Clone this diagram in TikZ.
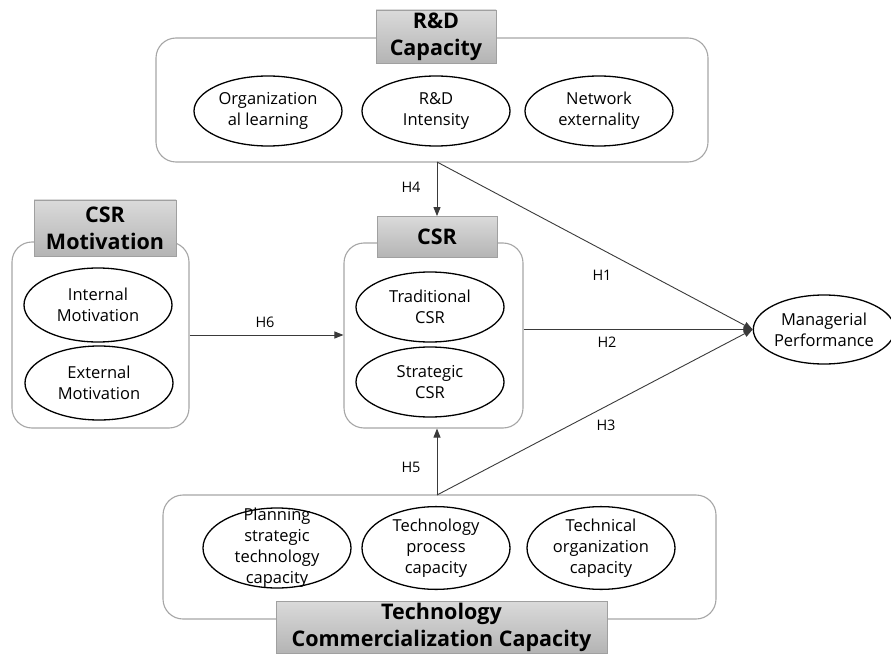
\documentclass[tikz,border=0pt]{standalone}
\usepackage{fontspec}
\setmainfont{Open Sans}
\usetikzlibrary{arrows.meta,shapes.geometric}
\definecolor{framegray}{HTML}{A6A6A6}
\definecolor{titletop}{HTML}{DADADA}
\definecolor{titlebot}{HTML}{B4B4B4}
\definecolor{titleline}{HTML}{A0A0A0}
\definecolor{linkgray}{HTML}{3A3A3A}
\begin{document}
\begin{tikzpicture}[x=1pt,y=-1pt,
  group/.style={draw=framegray, line width=1.1pt, rounded corners=20pt, fill=white, inner sep=0pt},
  heading/.style={draw=titleline, line width=0.8pt, top color=titletop, bottom color=titlebot,
    inner sep=0pt, align=center, font=\fontsize{21.5}{27}\selectfont\bfseries},
  oval/.style={draw=black, line width=1.3pt, ellipse, inner sep=0pt,
    minimum width=148pt, minimum height=70pt, align=center,
    font=\fontsize{16.5}{21}\selectfont},
  hlabel/.style={font=\fontsize{14.5}{16}\selectfont, inner sep=0pt},
  link/.style={draw=linkgray, line width=0.9pt},
  arrowlink/.style={link, -{Triangle[length=9pt,width=7pt]}}]
\useasboundingbox (0,0) rectangle (891,655);

% R&D capacity group
\node[group, minimum width=552pt, minimum height=124pt] (rd) at (432,100) {};
\node[heading, minimum width=120pt, minimum height=53pt] (rdT) at (436,36.5) {R\&D\\Capacity};
\node[oval] (ol) at (268,111) {Organization\\al learning};
\node[oval] (ri) at (436,111) {R\&D\\Intensity};
\node[oval] (ne) at (599,111) {Network\\externality};

% CSR motivation group
\node[group, minimum width=177pt, minimum height=186pt] (cm) at (100.5,335) {};
\node[heading, minimum width=142pt, minimum height=56pt] (cmT) at (105,228) {CSR\\Motivation};
\node[oval, minimum height=74pt] (im) at (98,305) {Internal\\Motivation};
\node[oval, minimum height=74pt] (em) at (99,383) {External\\Motivation};

% CSR group
\node[group, minimum width=179pt, minimum height=185pt] (csr) at (433.5,335.5) {};
\node[heading, minimum width=120pt, minimum height=41pt] (csrT) at (437,237) {CSR};
\node[oval] (tc) at (430,307) {Traditional\\CSR};
\node[oval] (sc) at (430,382) {Strategic\\CSR};

% Technology commercialization capacity group
\node[group, minimum width=553pt, minimum height=124pt] (tcc) at (439.5,557) {};
\node[oval, minimum height=80pt] (ps) at (277,548) {};
\node[align=center, font=\fontsize{16.5}{21}\selectfont, inner sep=0pt] at (ps) {Planning\\strategic\\technology\\capacity};
\node[oval, minimum height=80pt] (tp) at (436,548) {Technology\\process\\capacity};
\node[oval, minimum height=80pt] (to) at (601,548) {Technical\\organization\\capacity};
\node[heading, minimum width=331pt, minimum height=52pt] (tccT) at (441.5,627) {Technology\\Commercialization Capacity};

% Outcome
\node[draw=black, line width=1.3pt, ellipse, inner sep=0pt, minimum width=138pt, minimum height=69pt,
  align=center, font=\fontsize{16.5}{21}\selectfont] (mp) at (824,329.5) {Managerial\\Performance};

% Hypothesis paths
\coordinate (h4s) at (437,162);
\coordinate (h5s) at (437,495);
\draw[arrowlink] (h4s) -- (csrT.north);
\draw[arrowlink] (h4s) -- (mp.west);
\draw[arrowlink] (h5s) -- (h5s |- csr.south);
\draw[arrowlink] (h5s) -- (mp.west);
\draw[arrowlink] (cm.east) -- (cm.east -| csr.west);
\draw[arrowlink] (csr.east |- mp.west) -- (mp.west);

\node[hlabel] (lh1) at (602,275) {H1};
\node[hlabel] (lh2) at (607,342) {H2};
\node[hlabel] (lh3) at (606,425) {H3};
\node[hlabel] (lh4) at (411,187) {H4};
\node[hlabel] (lh5) at (411,467) {H5};
\node[hlabel] (lh6) at (265,322) {H6};
\end{tikzpicture}
\end{document}
